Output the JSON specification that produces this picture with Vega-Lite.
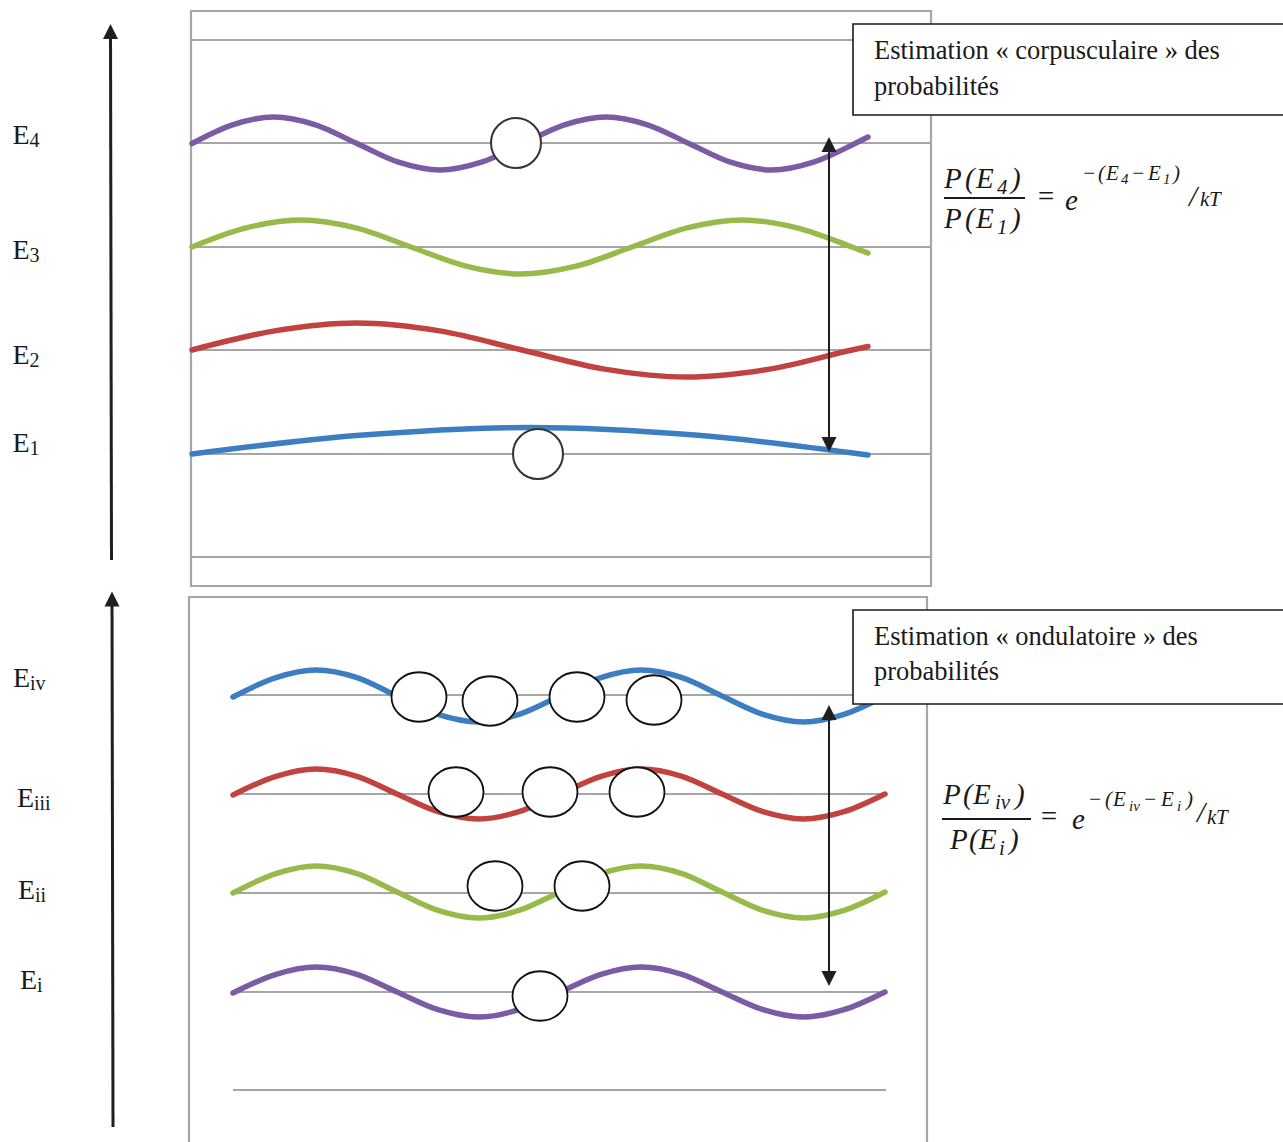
{
  "$schema": "https://vega.github.io/schema/vega-lite/v6.json",
  "width": 1283,
  "height": 1142,
  "autosize": {"type": "fit", "contains": "padding"},
  "padding": 0,
  "background": "white",
  "config": {"view": {"stroke": null}},
  "datasets": {
    "frames": [
      {"x": 191, "x2": 931, "y": 11, "y2": 586},
      {"x": 189, "x2": 927, "y": 597, "y2": 1160}
    ],
    "levels": [
      {"x": 191, "x2": 931, "y": 40}, {"x": 191, "x2": 931, "y": 143},
      {"x": 191, "x2": 931, "y": 247}, {"x": 191, "x2": 931, "y": 350},
      {"x": 191, "x2": 931, "y": 454}, {"x": 191, "x2": 931, "y": 557},
      {"x": 233, "x2": 886, "y": 695}, {"x": 233, "x2": 886, "y": 794},
      {"x": 233, "x2": 886, "y": 893}, {"x": 233, "x2": 886, "y": 992},
      {"x": 233, "x2": 886, "y": 1090}
    ],
    "waves": [
      {"level": "E4", "x": 192, "y": 143.5}, {"level": "E4", "x": 232.5, "y": 124.8}, {"level": "E4", "x": 274, "y": 117},
      {"level": "E4", "x": 315.5, "y": 124.8}, {"level": "E4", "x": 357, "y": 143.5}, {"level": "E4", "x": 398.5, "y": 162.2},
      {"level": "E4", "x": 440, "y": 170}, {"level": "E4", "x": 481.5, "y": 162.2}, {"level": "E4", "x": 523, "y": 143.5},
      {"level": "E4", "x": 564.5, "y": 124.8}, {"level": "E4", "x": 606, "y": 117}, {"level": "E4", "x": 647.5, "y": 124.8},
      {"level": "E4", "x": 689, "y": 143.5}, {"level": "E4", "x": 730.5, "y": 162.2}, {"level": "E4", "x": 772, "y": 170},
      {"level": "E4", "x": 813.5, "y": 162.2}, {"level": "E4", "x": 855, "y": 143.5}, {"level": "E4", "x": 868, "y": 137},

      {"level": "E3", "x": 192, "y": 247}, {"level": "E3", "x": 246, "y": 227.9}, {"level": "E3", "x": 301, "y": 220},
      {"level": "E3", "x": 356, "y": 227.9}, {"level": "E3", "x": 411, "y": 247}, {"level": "E3", "x": 466, "y": 266.1},
      {"level": "E3", "x": 521, "y": 274}, {"level": "E3", "x": 576, "y": 266.1}, {"level": "E3", "x": 632, "y": 247},
      {"level": "E3", "x": 687, "y": 227.9}, {"level": "E3", "x": 742, "y": 220}, {"level": "E3", "x": 797, "y": 227.9},
      {"level": "E3", "x": 852, "y": 247}, {"level": "E3", "x": 868, "y": 253},

      {"level": "E2", "x": 192, "y": 350}, {"level": "E2", "x": 274.5, "y": 330.9}, {"level": "E2", "x": 357, "y": 323},
      {"level": "E2", "x": 439.5, "y": 330.9}, {"level": "E2", "x": 522, "y": 350}, {"level": "E2", "x": 604.5, "y": 369.1},
      {"level": "E2", "x": 687, "y": 377}, {"level": "E2", "x": 769.5, "y": 369.1}, {"level": "E2", "x": 852, "y": 350},
      {"level": "E2", "x": 868, "y": 346.5},

      {"level": "E1", "x": 192, "y": 454}, {"level": "E1", "x": 360, "y": 435.3}, {"level": "E1", "x": 529, "y": 427.5},
      {"level": "E1", "x": 698, "y": 435.3}, {"level": "E1", "x": 868, "y": 455},

      {"level": "Eiv", "x": 233, "y": 697}, {"level": "Eiv", "x": 276, "y": 677.6}, {"level": "Eiv", "x": 316, "y": 670},
      {"level": "Eiv", "x": 357, "y": 677.6}, {"level": "Eiv", "x": 397, "y": 696}, {"level": "Eiv", "x": 438, "y": 714.4},
      {"level": "Eiv", "x": 478.5, "y": 722}, {"level": "Eiv", "x": 519, "y": 714.4}, {"level": "Eiv", "x": 560, "y": 696},
      {"level": "Eiv", "x": 601, "y": 677.6}, {"level": "Eiv", "x": 641, "y": 670}, {"level": "Eiv", "x": 682, "y": 677.6},
      {"level": "Eiv", "x": 722, "y": 696}, {"level": "Eiv", "x": 763, "y": 714.4}, {"level": "Eiv", "x": 803.5, "y": 722},
      {"level": "Eiv", "x": 844, "y": 714.4}, {"level": "Eiv", "x": 885, "y": 696},

      {"level": "Eiii", "x": 233, "y": 795}, {"level": "Eiii", "x": 276, "y": 776.3}, {"level": "Eiii", "x": 316, "y": 769},
      {"level": "Eiii", "x": 357, "y": 776.3}, {"level": "Eiii", "x": 397, "y": 794}, {"level": "Eiii", "x": 438, "y": 811.7},
      {"level": "Eiii", "x": 478.5, "y": 819}, {"level": "Eiii", "x": 519, "y": 811.7}, {"level": "Eiii", "x": 560, "y": 794},
      {"level": "Eiii", "x": 601, "y": 776.3}, {"level": "Eiii", "x": 641, "y": 769}, {"level": "Eiii", "x": 682, "y": 776.3},
      {"level": "Eiii", "x": 722, "y": 794}, {"level": "Eiii", "x": 763, "y": 811.7}, {"level": "Eiii", "x": 803.5, "y": 819},
      {"level": "Eiii", "x": 844, "y": 811.7}, {"level": "Eiii", "x": 885, "y": 794},

      {"level": "Eii", "x": 233, "y": 893}, {"level": "Eii", "x": 276, "y": 873.6}, {"level": "Eii", "x": 316, "y": 866},
      {"level": "Eii", "x": 357, "y": 873.6}, {"level": "Eii", "x": 397, "y": 892}, {"level": "Eii", "x": 438, "y": 910.4},
      {"level": "Eii", "x": 478.5, "y": 918}, {"level": "Eii", "x": 519, "y": 910.4}, {"level": "Eii", "x": 560, "y": 892},
      {"level": "Eii", "x": 601, "y": 873.6}, {"level": "Eii", "x": 641, "y": 866}, {"level": "Eii", "x": 682, "y": 873.6},
      {"level": "Eii", "x": 722, "y": 892}, {"level": "Eii", "x": 763, "y": 910.4}, {"level": "Eii", "x": 803.5, "y": 918},
      {"level": "Eii", "x": 844, "y": 910.4}, {"level": "Eii", "x": 885, "y": 892},

      {"level": "Ei", "x": 233, "y": 993}, {"level": "Ei", "x": 276, "y": 974.3}, {"level": "Ei", "x": 316, "y": 967},
      {"level": "Ei", "x": 357, "y": 974.3}, {"level": "Ei", "x": 397, "y": 992}, {"level": "Ei", "x": 438, "y": 1009.7},
      {"level": "Ei", "x": 478.5, "y": 1017}, {"level": "Ei", "x": 519, "y": 1009.7}, {"level": "Ei", "x": 560, "y": 992},
      {"level": "Ei", "x": 601, "y": 974.3}, {"level": "Ei", "x": 641, "y": 967}, {"level": "Ei", "x": 682, "y": 974.3},
      {"level": "Ei", "x": 722, "y": 992}, {"level": "Ei", "x": 763, "y": 1009.7}, {"level": "Ei", "x": 803.5, "y": 1017},
      {"level": "Ei", "x": 844, "y": 1009.7}, {"level": "Ei", "x": 885, "y": 992}
    ],
    "balls": [
      {"panel": "top", "x": 516, "y": 143}, {"panel": "top", "x": 538, "y": 454},
      {"panel": "bottom", "x": 419, "y": 697}, {"panel": "bottom", "x": 490, "y": 701},
      {"panel": "bottom", "x": 577, "y": 697}, {"panel": "bottom", "x": 654, "y": 700},
      {"panel": "bottom", "x": 456, "y": 792}, {"panel": "bottom", "x": 550, "y": 792},
      {"panel": "bottom", "x": 637, "y": 792}, {"panel": "bottom", "x": 495, "y": 886},
      {"panel": "bottom", "x": 582, "y": 886}, {"panel": "bottom", "x": 540, "y": 996}
    ],
    "shafts": [
      {"kind": "axis", "x": 110.5, "x2": 111.5, "y": 30, "y2": 560},
      {"kind": "axis", "x": 112, "x2": 113, "y": 598, "y2": 1127},
      {"kind": "gap", "x": 829, "x2": 829, "y": 144, "y2": 445},
      {"kind": "gap", "x": 829, "x2": 829, "y": 712, "y2": 979}
    ],
    "heads": [
      {"dir": "up", "x": 110.5, "y": 31.5}, {"dir": "up", "x": 112, "y": 599},
      {"dir": "up", "x": 829, "y": 144.5}, {"dir": "down", "x": 829, "y": 444.5},
      {"dir": "up", "x": 829, "y": 712.5}, {"dir": "down", "x": 829, "y": 978.5}
    ],
    "boxes": [
      {"x": 853, "x2": 1295, "y": 24, "y2": 115},
      {"x": 853, "x2": 1295, "y": 610, "y2": 704}
    ],
    "boxtext": [
      {"x": 874, "y": 59, "t": "Estimation « corpusculaire » des"},
      {"x": 874, "y": 95, "t": "probabilités"},
      {"x": 874, "y": 645, "t": "Estimation « ondulatoire » des"},
      {"x": 874, "y": 680, "t": "probabilités"}
    ],
    "labels": [
      {"x": 12.5, "y": 143.5, "sub": "4"}, {"x": 12.5, "y": 258.5, "sub": "3"},
      {"x": 12.5, "y": 363.5, "sub": "2"}, {"x": 12.5, "y": 451.5, "sub": "1"},
      {"x": 13, "y": 687, "sub": "iv"}, {"x": 17, "y": 807, "sub": "iii"},
      {"x": 18, "y": 899, "sub": "ii"}, {"x": 20, "y": 989, "sub": "i"}
    ],
    "bars": [
      {"x": 944, "x2": 1025, "y": 198},
      {"x": 942, "x2": 1031, "y": 819}
    ],
    "math": [
      {"part": "main", "t": "P", "x": 944, "y": 188}, {"part": "main", "t": "(", "x": 965, "y": 188},
      {"part": "main", "t": "E", "x": 976, "y": 188}, {"part": "sub", "t": "4", "x": 997, "y": 194},
      {"part": "main", "t": ")", "x": 1011, "y": 188},
      {"part": "main", "t": "P", "x": 944, "y": 228}, {"part": "main", "t": "(", "x": 965, "y": 228},
      {"part": "main", "t": "E", "x": 976, "y": 228}, {"part": "sub", "t": "1", "x": 997, "y": 234},
      {"part": "main", "t": ")", "x": 1011, "y": 228},
      {"part": "main", "t": "=", "x": 1036, "y": 206}, {"part": "main", "t": "e", "x": 1065, "y": 210},
      {"part": "sub", "t": "−", "x": 1082, "y": 180}, {"part": "sub", "t": "(", "x": 1098, "y": 180},
      {"part": "sub", "t": "E", "x": 1106, "y": 180}, {"part": "subsub", "t": "4", "x": 1121, "y": 184},
      {"part": "sub", "t": "−", "x": 1131, "y": 180}, {"part": "sub", "t": "E", "x": 1148, "y": 180},
      {"part": "subsub", "t": "1", "x": 1163, "y": 184}, {"part": "sub", "t": ")", "x": 1173, "y": 180},
      {"part": "main", "t": "/", "x": 1189, "y": 206},
      {"part": "sub", "t": "k", "x": 1200, "y": 206}, {"part": "sub", "t": "T", "x": 1209, "y": 206},

      {"part": "main", "t": "P", "x": 943, "y": 804}, {"part": "main", "t": "(", "x": 963, "y": 804},
      {"part": "main", "t": "E", "x": 973, "y": 804}, {"part": "sub", "t": "iv", "x": 995, "y": 809},
      {"part": "main", "t": ")", "x": 1015, "y": 804},
      {"part": "main", "t": "P", "x": 950, "y": 849}, {"part": "main", "t": "(", "x": 969, "y": 849},
      {"part": "main", "t": "E", "x": 979, "y": 849}, {"part": "sub", "t": "i", "x": 999, "y": 855},
      {"part": "main", "t": ")", "x": 1009, "y": 849},
      {"part": "main", "t": "=", "x": 1039, "y": 826}, {"part": "main", "t": "e", "x": 1072, "y": 829},
      {"part": "sub", "t": "−", "x": 1088, "y": 806}, {"part": "sub", "t": "(", "x": 1105, "y": 806},
      {"part": "sub", "t": "E", "x": 1113, "y": 806}, {"part": "subsub", "t": "iv", "x": 1129, "y": 811},
      {"part": "sub", "t": "−", "x": 1143, "y": 806}, {"part": "sub", "t": "E", "x": 1161, "y": 806},
      {"part": "subsub", "t": "i", "x": 1177, "y": 811}, {"part": "sub", "t": ")", "x": 1186, "y": 806},
      {"part": "main", "t": "/", "x": 1197, "y": 822},
      {"part": "sub", "t": "k", "x": 1207, "y": 824}, {"part": "sub", "t": "T", "x": 1216, "y": 824}
    ]
  },
  "encoding": {
    "x": {"field": "x", "type": "quantitative", "scale": {"domain": [0, 1283], "nice": false, "zero": false}, "axis": null},
    "y": {"field": "y", "type": "quantitative", "scale": {"domain": [0, 1142], "nice": false, "zero": false, "reverse": true}, "axis": null}
  },
  "layer": [
    {
      "data": {"name": "frames"},
      "mark": {"type": "rect", "fillOpacity": 0, "stroke": "#a6a6a6", "strokeWidth": 2.2, "clip": true},
      "encoding": {"x2": {"field": "x2"}, "y2": {"field": "y2"}}
    },
    {
      "data": {"name": "levels"},
      "mark": {"type": "rule", "color": "#a6a6a6", "strokeWidth": 2},
      "encoding": {"x2": {"field": "x2"}}
    },
    {
      "data": {"name": "waves"},
      "mark": {"type": "line", "interpolate": "monotone", "strokeWidth": 5.5, "strokeCap": "round"},
      "encoding": {
        "color": {
          "field": "level", "type": "nominal", "legend": null,
          "scale": {
            "domain": ["E4", "E3", "E2", "E1", "Eiv", "Eiii", "Eii", "Ei"],
            "range": ["#7b5ba4", "#96bb4a", "#c0433f", "#3d7dc1", "#3d7dc1", "#c0433f", "#96bb4a", "#7b5ba4"]
          }
        }
      }
    },
    {
      "data": {"name": "balls"},
      "transform": [{"filter": "datum.panel == 'top'"}],
      "mark": {"type": "point", "shape": "circle", "size": 2500, "filled": false, "fill": "white", "fillOpacity": 1, "stroke": "#333333", "strokeWidth": 2, "opacity": 1}
    },
    {
      "data": {"name": "balls"},
      "transform": [{"filter": "datum.panel == 'bottom'"}],
      "mark": {"type": "point", "shape": "M-1,0A1,0.9,0,1,1,1,0A1,0.9,0,1,1,-1,0Z", "size": 3025, "filled": false, "fill": "white", "fillOpacity": 1, "stroke": "#111111", "strokeWidth": 1.8, "opacity": 1}
    },
    {
      "data": {"name": "shafts"},
      "transform": [{"filter": "datum.kind == 'axis'"}],
      "mark": {"type": "rule", "color": "#1f1f1f", "strokeWidth": 3},
      "encoding": {"x2": {"field": "x2"}, "y2": {"field": "y2"}}
    },
    {
      "data": {"name": "shafts"},
      "transform": [{"filter": "datum.kind == 'gap'"}],
      "mark": {"type": "rule", "color": "#1f1f1f", "strokeWidth": 2},
      "encoding": {"x2": {"field": "x2"}, "y2": {"field": "y2"}}
    },
    {
      "data": {"name": "heads"},
      "mark": {"type": "point", "filled": true, "size": 225, "color": "#1f1f1f", "opacity": 1},
      "encoding": {
        "shape": {
          "field": "dir", "type": "nominal", "legend": null,
          "scale": {"domain": ["up", "down"], "range": ["M0,-1L1,1L-1,1Z", "M0,1L1,-1L-1,-1Z"]}
        }
      }
    },
    {
      "data": {"name": "boxes"},
      "mark": {"type": "rect", "fill": "white", "stroke": "#1a1a1a", "strokeWidth": 1.6, "clip": true},
      "encoding": {"x2": {"field": "x2"}, "y2": {"field": "y2"}}
    },
    {
      "data": {"name": "boxtext"},
      "mark": {"type": "text", "align": "left", "baseline": "alphabetic", "font": "'Liberation Serif', 'DejaVu Serif', serif", "fontSize": 26.5, "color": "#1a1a1a"},
      "encoding": {"text": {"field": "t"}}
    },
    {
      "data": {"name": "labels"},
      "mark": {"type": "text", "align": "left", "baseline": "alphabetic", "font": "'Liberation Serif', 'DejaVu Serif', serif", "fontSize": 28, "color": "#1a1a1a"},
      "encoding": {"text": {"value": "E"}}
    },
    {
      "data": {"name": "labels"},
      "mark": {"type": "text", "align": "left", "baseline": "alphabetic", "font": "'Liberation Serif', 'DejaVu Serif', serif", "fontSize": 20, "dx": 17, "dy": 3, "color": "#1a1a1a"},
      "encoding": {"text": {"field": "sub"}}
    },
    {
      "data": {"name": "bars"},
      "mark": {"type": "rule", "color": "#1a1a1a", "strokeWidth": 2},
      "encoding": {"x2": {"field": "x2"}}
    },
    {
      "data": {"name": "math"},
      "transform": [{"filter": "datum.part == 'main'"}],
      "mark": {"type": "text", "align": "left", "baseline": "alphabetic", "font": "'Liberation Serif', 'DejaVu Serif', serif", "fontStyle": "italic", "fontSize": 29, "color": "#1a1a1a"},
      "encoding": {"text": {"field": "t"}}
    },
    {
      "data": {"name": "math"},
      "transform": [{"filter": "datum.part == 'sub'"}],
      "mark": {"type": "text", "align": "left", "baseline": "alphabetic", "font": "'Liberation Serif', 'DejaVu Serif', serif", "fontStyle": "italic", "fontSize": 21, "color": "#1a1a1a"},
      "encoding": {"text": {"field": "t"}}
    },
    {
      "data": {"name": "math"},
      "transform": [{"filter": "datum.part == 'subsub'"}],
      "mark": {"type": "text", "align": "left", "baseline": "alphabetic", "font": "'Liberation Serif', 'DejaVu Serif', serif", "fontStyle": "italic", "fontSize": 15, "color": "#1a1a1a"},
      "encoding": {"text": {"field": "t"}}
    }
  ]
}
